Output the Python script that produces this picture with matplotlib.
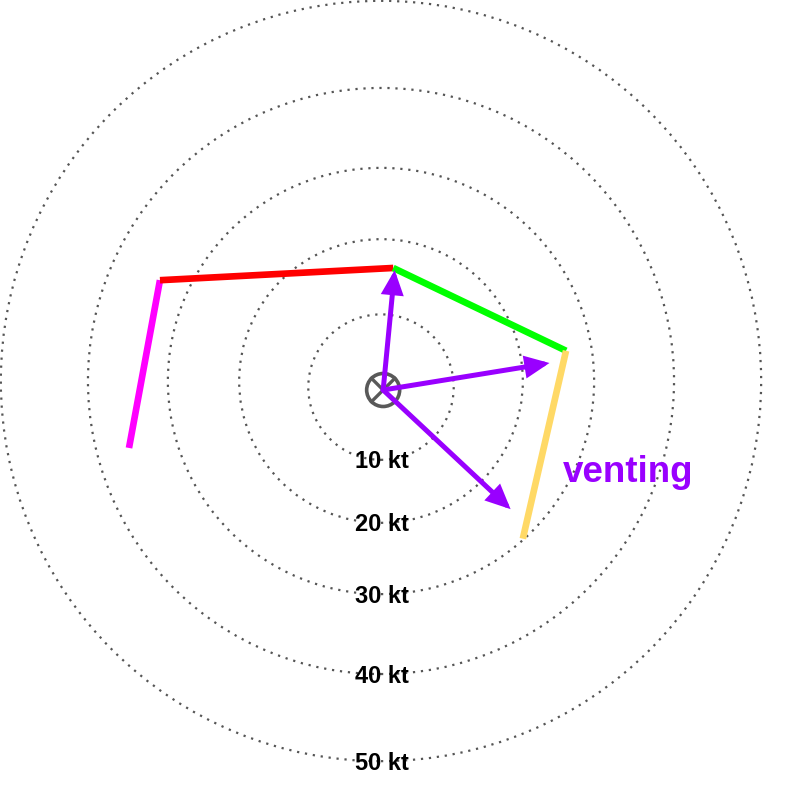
import matplotlib
matplotlib.use("Agg")
import matplotlib.pyplot as plt
from matplotlib.patches import Circle, FancyArrowPatch
import numpy as np

# chart units are knots, about 7.2 px per knot on the 798x796 canvas
PX = 7.2

# speed rings (label value, drawn radius, small vertical offset of the hand-drawn ring)
ring_speeds = [10, 20, 30, 40, 50]
ring_radii = [10.1, 19.7, 29.6, 40.7, 52.8]
ring_dy = [-0.85, 0, 0, 0, 0]

# hodograph trace (u, v in kt), one colour per layer
hodo_u = [-35.0, -30.7, 1.7, 25.7, 19.7]
hodo_v = [-9.3, 14.0, 15.7, 4.2, -21.9]
layer_colors = ["#FF00FF", "#FF0000", "#00FF00", "#FFD966"]

# storm-motion vectors from the origin
origin_u, origin_v = 0.3, -1.25
vec_u = [1.9, 23.4, 18.0]
vec_v = [15.4, 2.5, -17.8]

purple = "#9900FF"
grey = "#595959"

fig = plt.figure(figsize=(7.98, 7.96), dpi=100)
ax = fig.add_axes([0, 0, 1, 1])
ax.set_xlim(-381 / PX, 417 / PX)
ax.set_ylim(-415 / PX, 381 / PX)
ax.set_aspect("equal")
ax.axis("off")

# dotted rings + labels
for spd, r, dy in zip(ring_speeds, ring_radii, ring_dy):
    ax.add_patch(Circle((0, dy), r, fill=False, ec="#555555", lw=1.6,
                        linestyle=(0, (1, 2.6)), zorder=1))
    ax.text(0.1, dy - r - 8.5 / PX, f"{spd} kt", ha="center", va="baseline",
            fontsize=17, fontweight="bold", family="Liberation Sans",
            color="black", zorder=2)

# hodograph segments
for i, c in enumerate(layer_colors):
    ax.plot(hodo_u[i:i + 2], hodo_v[i:i + 2], color=c, lw=4.8,
            solid_capstyle="butt", zorder=3)

# origin marker (circle with X)
rr = 16.5 / PX
ax.add_patch(Circle((origin_u, origin_v), rr, fill=False, ec=grey, lw=2.6, zorder=4))
d = rr * np.cos(np.pi / 4)
ax.plot([origin_u - d, origin_u + d], [origin_v + d, origin_v - d], color=grey, lw=2.4, zorder=4)
ax.plot([origin_u - d, origin_u + d], [origin_v - d, origin_v + d], color=grey, lw=2.4, zorder=4)

# vectors
for u, v in zip(vec_u, vec_v):
    arr = FancyArrowPatch((origin_u, origin_v), (u, v),
                          arrowstyle="-|>,head_length=12,head_width=5.5",
                          mutation_scale=1, lw=3.6, color=purple,
                          shrinkA=0, shrinkB=0, joinstyle="miter", zorder=5)
    ax.add_patch(arr)

ax.text(25.3, -14.0, "venting", ha="left", va="baseline", fontsize=26.5,
        fontweight="bold", family="Liberation Sans", color=purple, zorder=6)

fig.savefig("out.png", dpi=100)
